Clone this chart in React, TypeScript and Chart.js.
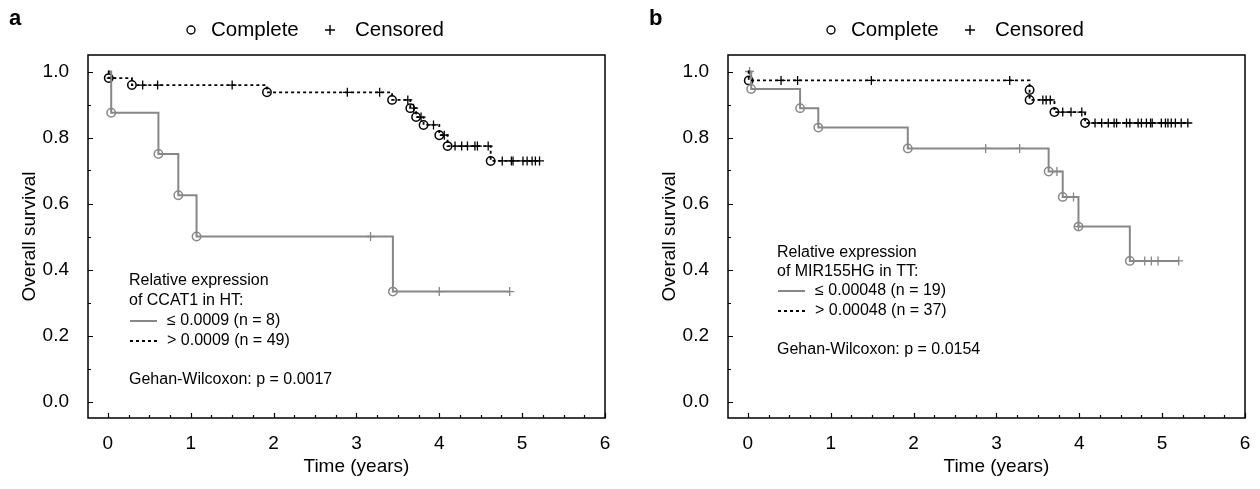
import React, { useEffect, useRef } from 'react';
import { Chart, registerables } from 'chart.js';

Chart.register(...registerables);

// ---------- axis ticks ----------
const X_TICKS = [0, 1, 2, 3, 4, 5, 6];
const Y_TICKS = [0, 0.2, 0.4, 0.6, 0.8, 1.0];

// ---------- Panel a : CCAT1 in HT ----------
// low expression (<= 0.0009, n = 8) step curve
const A_LOW_T = [0, 0.04, 0.61, 0.85, 1.07, 3.44, 4.85];
const A_LOW_S = [1.0, 0.875, 0.75, 0.625, 0.5, 0.333, 0.333];
const A_LOW_EVENT_T = [0.04, 0.61, 0.85, 1.07, 3.44];
const A_LOW_EVENT_S = [0.875, 0.75, 0.625, 0.5, 0.333];
const A_LOW_CENS_T = [3.17, 4.0, 4.85];
const A_LOW_CENS_S = [0.5, 0.333, 0.333];

// high expression (> 0.0009, n = 49)
const A_HIGH_T = [0, 0.01, 0.29, 1.92, 3.43, 3.65, 3.72, 3.81, 4.0, 4.1, 4.62, 5.21];
const A_HIGH_S = [1.0, 0.98, 0.959, 0.937, 0.914, 0.889, 0.862, 0.838, 0.807, 0.774, 0.729, 0.729];
const A_HIGH_EVENT_T = [0.01, 0.29, 1.92, 3.43, 3.65, 3.72, 3.81, 4.0, 4.1, 4.62];
const A_HIGH_EVENT_S = [0.98, 0.959, 0.937, 0.914, 0.889, 0.862, 0.838, 0.807, 0.774, 0.729];
const A_HIGH_CENS_T = [0.04, 0.42, 0.6, 1.5, 2.89, 3.28, 3.62, 3.69, 3.78, 3.93, 4.06, 4.19, 4.27, 4.34, 4.43, 4.46, 4.59, 4.76, 4.87, 4.89, 5.01, 5.06, 5.12, 5.16, 5.21];
const A_HIGH_CENS_S = [0.98, 0.959, 0.959, 0.959, 0.937, 0.937, 0.914, 0.889, 0.862, 0.838, 0.807, 0.774, 0.774, 0.774, 0.774, 0.774, 0.774, 0.729, 0.729, 0.729, 0.729, 0.729, 0.729, 0.729, 0.729];

// ---------- Panel b : MIR155HG in TT ----------
const B_LOW_T = [0, 0.04, 0.63, 0.85, 1.93, 3.63, 3.8, 3.99, 4.61, 5.2];
const B_LOW_S = [1.0, 0.947, 0.889, 0.83, 0.767, 0.697, 0.62, 0.53, 0.426, 0.426];
const B_LOW_EVENT_T = [0.04, 0.63, 0.85, 1.93, 3.63, 3.8, 3.99, 4.61];
const B_LOW_EVENT_S = [0.947, 0.889, 0.83, 0.767, 0.697, 0.62, 0.53, 0.426];
const B_LOW_CENS_T = [0.02, 2.87, 3.28, 3.73, 3.93, 3.99, 4.79, 4.87, 4.95, 5.2];
const B_LOW_CENS_S = [1.0, 0.767, 0.767, 0.697, 0.62, 0.53, 0.426, 0.426, 0.426, 0.426];

const B_HIGH_T = [0, 0.01, 3.4, 3.4, 3.7, 4.07, 5.31];
const B_HIGH_S = [1.0, 0.973, 0.944, 0.914, 0.877, 0.844, 0.844];
const B_HIGH_EVENT_T = [0.01, 3.4, 3.4, 3.7, 4.07];
const B_HIGH_EVENT_S = [0.973, 0.944, 0.914, 0.877, 0.844];
const B_HIGH_CENS_T = [0.4, 0.6, 1.49, 3.16, 3.56, 3.6, 3.65, 3.8, 3.9, 4.03, 4.19, 4.27, 4.35, 4.42, 4.45, 4.57, 4.61, 4.71, 4.75, 4.81, 4.86, 4.88, 4.99, 5.04, 5.07, 5.11, 5.16, 5.23, 5.31];
const B_HIGH_CENS_S = [0.973, 0.973, 0.973, 0.973, 0.914, 0.914, 0.914, 0.877, 0.877, 0.877, 0.844, 0.844, 0.844, 0.844, 0.844, 0.844, 0.844, 0.844, 0.844, 0.844, 0.844, 0.844, 0.844, 0.844, 0.844, 0.844, 0.844, 0.844, 0.844];

// ---------- texts ----------
const LEGEND_COMPLETE = 'Complete';
const LEGEND_CENSORED = 'Censored';
const X_TITLE = 'Time (years)';
const Y_TITLE = 'Overall survival';
const A_TEXT = ['Relative expression', 'of CCAT1 in HT:'];
const A_LOW_LABEL = '≤ 0.0009 (n = 8)';
const A_HIGH_LABEL = '> 0.0009 (n = 49)';
const A_P = 'Gehan-Wilcoxon: p = 0.0017';
const B_TEXT = ['Relative expression', 'of MIR155HG in TT:'];
const B_LOW_LABEL = '≤ 0.00048 (n = 19)';
const B_HIGH_LABEL = '> 0.00048 (n = 37)';
const B_P = 'Gehan-Wilcoxon: p = 0.0154';

const FONT = '"Liberation Sans", Arial, Helvetica, sans-serif';
const GRAY = '#878787';
const DASH = [3, 3];

const zip = (t: number[], s: number[]) => t.map((v, i) => ({ x: v, y: s[i] }));

type PanelSpec = {
  letter: string;
  lowT: number[]; lowS: number[];
  lowEvT: number[]; lowEvS: number[];
  lowCeT: number[]; lowCeS: number[];
  highT: number[]; highS: number[];
  highEvT: number[]; highEvS: number[];
  highCeT: number[]; highCeS: number[];
  text: string[]; lowLabel: string; highLabel: string; pText: string;
  layout: { width: number; padRight: number; textX: number; rows: number[]; pY: number };
};

const PANELS: PanelSpec[] = [
  {
    letter: 'a',
    lowT: A_LOW_T, lowS: A_LOW_S, lowEvT: A_LOW_EVENT_T, lowEvS: A_LOW_EVENT_S, lowCeT: A_LOW_CENS_T, lowCeS: A_LOW_CENS_S,
    highT: A_HIGH_T, highS: A_HIGH_S, highEvT: A_HIGH_EVENT_T, highEvS: A_HIGH_EVENT_S, highCeT: A_HIGH_CENS_T, highCeS: A_HIGH_CENS_S,
    text: A_TEXT, lowLabel: A_LOW_LABEL, highLabel: A_HIGH_LABEL, pText: A_P,
    layout: { width: 640, padRight: 35, textX: 129, rows: [281, 301, 321, 341], pY: 380 },
  },
  {
    letter: 'b',
    lowT: B_LOW_T, lowS: B_LOW_S, lowEvT: B_LOW_EVENT_T, lowEvS: B_LOW_EVENT_S, lowCeT: B_LOW_CENS_T, lowCeS: B_LOW_CENS_S,
    highT: B_HIGH_T, highS: B_HIGH_S, highEvT: B_HIGH_EVENT_T, highEvS: B_HIGH_EVENT_S, highCeT: B_HIGH_CENS_T, highCeS: B_HIGH_CENS_S,
    text: B_TEXT, lowLabel: B_LOW_LABEL, highLabel: B_HIGH_LABEL, pText: B_P,
    layout: { width: 620, padRight: 15, textX: 137, rows: [253, 272, 291, 311], pY: 350 },
  },
];

function makeDecor(p: PanelSpec) {
  return {
    id: 'decor',
    afterDraw(chart: any) {
      const { ctx, chartArea: ca } = chart;
      const xs = chart.scales.x;
      const ys = chart.scales.y;
      ctx.save();
      // frame
      ctx.strokeStyle = '#000';
      ctx.lineWidth = 1.5;
      ctx.setLineDash([]);
      ctx.strokeRect(ca.left, ca.top, ca.right - ca.left, ca.bottom - ca.top);
      // inward ticks
      ctx.lineWidth = 1.2;
      ctx.beginPath();
      for (let i = 0; i <= 24; i++) {
        const px = Math.round(xs.getPixelForValue(i * 0.25)) + 0.5;
        const len = i % 4 === 0 ? 5 : 3;
        ctx.moveTo(px, ca.bottom);
        ctx.lineTo(px, ca.bottom - len);
      }
      for (let i = 0; i <= 10; i++) {
        const py = Math.round(ys.getPixelForValue(i * 0.1)) + 0.5;
        const len = i % 2 === 0 ? 5 : 3;
        ctx.moveTo(ca.left, py);
        ctx.lineTo(ca.left + len, py);
      }
      ctx.stroke();

      ctx.fillStyle = '#000';
      // panel letter
      ctx.font = `bold 22px ${FONT}`;
      ctx.textAlign = 'left';
      ctx.textBaseline = 'middle';
      ctx.fillText(p.letter, 9, 19);

      // top legend
      const ly = 30;
      ctx.lineWidth = 1.4;
      ctx.beginPath();
      ctx.arc(191, ly, 4, 0, Math.PI * 2);
      ctx.stroke();
      ctx.font = `20.5px ${FONT}`;
      ctx.fillText(LEGEND_COMPLETE, 211, ly);
      ctx.beginPath();
      ctx.moveTo(325, ly); ctx.lineTo(335, ly);
      ctx.moveTo(330, ly - 5); ctx.lineTo(330, ly + 5);
      ctx.stroke();
      ctx.fillText(LEGEND_CENSORED, 355, ly);

      // axis titles
      ctx.font = `19px ${FONT}`;
      ctx.textAlign = 'center';
      ctx.fillText(X_TITLE, xs.getPixelForValue(3), 467);
      ctx.save();
      ctx.translate(30, (ca.top + ca.bottom) / 2);
      ctx.rotate(-Math.PI / 2);
      ctx.fillText(Y_TITLE, 0, 0);
      ctx.restore();

      // inner legend
      const L = p.layout;
      ctx.font = `16px ${FONT}`;
      ctx.textAlign = 'left';
      ctx.fillText(p.text[0], L.textX, L.rows[0]);
      ctx.fillText(p.text[1], L.textX, L.rows[1]);
      ctx.strokeStyle = GRAY;
      ctx.lineWidth = 2;
      ctx.beginPath();
      ctx.moveTo(L.textX + 1, L.rows[2]); ctx.lineTo(L.textX + 28, L.rows[2]);
      ctx.stroke();
      ctx.fillText(p.lowLabel, L.textX + 38, L.rows[2]);
      ctx.strokeStyle = '#000';
      ctx.lineWidth = 1.8;
      ctx.setLineDash(DASH);
      ctx.beginPath();
      ctx.moveTo(L.textX + 1, L.rows[3]); ctx.lineTo(L.textX + 28, L.rows[3]);
      ctx.stroke();
      ctx.setLineDash([]);
      ctx.fillText(p.highLabel, L.textX + 38, L.rows[3]);
      ctx.fillText(p.pText, L.textX, L.pY);
      ctx.restore();
    },
  };
}

function KMChart({ p }: { p: PanelSpec }) {
  const ref = useRef<HTMLCanvasElement>(null);
  useEffect(() => {
    if (!ref.current) return;
    const lineBase = { type: 'line' as const, stepped: true, pointRadius: 0, fill: false, tension: 0 };
    const chart = new Chart(ref.current, {
      type: 'scatter',
      data: {
        datasets: [
          { ...lineBase, data: zip(p.highT, p.highS), borderColor: '#000', borderWidth: 1.8, borderDash: DASH, showLine: true } as any,
          { ...lineBase, data: zip(p.lowT, p.lowS), borderColor: GRAY, borderWidth: 2, showLine: true } as any,
          { data: zip(p.lowEvT, p.lowEvS), pointStyle: 'circle', pointRadius: 4.2, pointBorderWidth: 1.5, pointBorderColor: GRAY, pointBackgroundColor: 'rgba(0,0,0,0)', showLine: false },
          { data: zip(p.lowCeT, p.lowCeS), pointStyle: 'cross', pointRadius: 4.5, pointBorderWidth: 1.3, pointBorderColor: GRAY, showLine: false },
          { data: zip(p.highEvT, p.highEvS), pointStyle: 'circle', pointRadius: 4.2, pointBorderWidth: 1.5, pointBorderColor: '#000', pointBackgroundColor: 'rgba(0,0,0,0)', showLine: false },
          { data: zip(p.highCeT, p.highCeS), pointStyle: 'cross', pointRadius: 4.5, pointBorderWidth: 1.3, pointBorderColor: '#000', showLine: false },
        ],
      },
      options: {
        responsive: false,
        animation: false,
        devicePixelRatio: 1,
        layout: { padding: { top: 55, right: p.layout.padRight, bottom: 0, left: 0 } },
        plugins: { legend: { display: false }, tooltip: { enabled: false } },
        events: [],
        scales: {
          x: {
            type: 'linear',
            min: -0.24,
            max: 6.0,
            grid: { display: false },
            border: { display: false },
            afterBuildTicks: (s: any) => { s.ticks = X_TICKS.map((v) => ({ value: v })); },
            afterFit: (s: any) => { s.height = 71; },
            ticks: { color: '#000', font: { family: FONT, size: 19 }, padding: 6, maxRotation: 0, autoSkip: false, callback: (v: any) => String(v) },
          },
          y: {
            type: 'linear',
            min: -0.05,
            max: 1.05,
            grid: { display: false },
            border: { display: false },
            afterBuildTicks: (s: any) => { s.ticks = Y_TICKS.map((v) => ({ value: v })); },
            afterFit: (s: any) => { s.width = 88; },
            ticks: { color: '#000', font: { family: FONT, size: 19 }, padding: 11, autoSkip: false, callback: (v: any) => Number(v).toFixed(1) },
          },
        },
      },
      plugins: [makeDecor(p)],
    } as any);
    return () => chart.destroy();
  }, [p]);
  return <canvas ref={ref} width={p.layout.width} height={489} style={{ display: 'block', width: p.layout.width, height: 489 }} />;
}

export default function App() {
  return (
    <div style={{ position: 'fixed', left: 0, top: 0, width: 1260, height: 489, background: '#fff', display: 'flex' }}>
      {PANELS.map((p) => (
        <KMChart key={p.letter} p={p} />
      ))}
    </div>
  );
}
